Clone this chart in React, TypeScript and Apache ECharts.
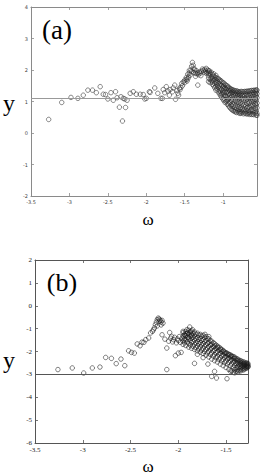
import React, { useEffect, useRef } from "react";
import * as echarts from "echarts";

// ---------- data ----------
const xRangeA = [-3.5, -0.56];
const yRangeA = [-2, 4];
const refLineA = 1.1;

const xRangeB = [-3.5, -1.27];
const yRangeB = [-6, 2];
const refLineB = -3;

// panel (a): sparse part
const sparseA: [number, number][] = [
  [-3.27, 0.43], [-3.1, 0.97], [-2.98, 1.13], [-2.89, 1.1], [-2.82, 1.2], [-2.76, 1.36],
  [-2.7, 1.36], [-2.65, 1.28], [-2.6, 1.47], [-2.56, 1.23], [-2.53, 1.22], [-2.5, 1.08],
  [-2.46, 1.28], [-2.43, 1.04], [-2.4, 1.31], [-2.38, 1.12], [-2.35, 0.82], [-2.33, 1.15],
  [-2.3, 1.1], [-2.31, 0.38], [-2.27, 0.81], [-2.28, 1.08], [-2.25, 1.04], [-2.21, 1.26],
  [-2.17, 1.31], [-2.13, 1.23], [-2.08, 1.23], [-2.04, 1.22], [-2.02, 1.08], [-2.0, 1.1],
  [-1.96, 1.31], [-1.95, 1.29], [-1.89, 1.43], [-1.85, 1.26], [-1.81, 1.1], [-1.79, 1.1],
  [-1.78, 1.38], [-1.76, 1.28], [-1.74, 1.47], [-1.72, 1.33], [-1.7, 1.2], [-1.69, 1.38],
  [-1.66, 1.31], [-1.65, 1.43], [-1.63, 1.52], [-1.62, 1.07], [-1.59, 1.26], [-1.58, 1.2],
  [-1.6, 1.35], [-1.57, 1.42], [-1.56, 1.38], [-1.55, 1.45], [-1.54, 1.57], [-1.53, 1.5],
  [-1.52, 1.62], [-1.5, 1.68], [-1.5, 1.6], [-1.48, 1.76], [-1.48, 1.7], [-1.47, 1.65],
  [-1.46, 1.87], [-1.46, 1.72], [-1.45, 1.78], [-1.44, 1.99], [-1.44, 1.9], [-1.43, 1.84],
  [-1.42, 2.0], [-1.41, 2.12], [-1.41, 1.95], [-1.4, 2.24], [-1.39, 2.15], [-1.38, 2.05],
  [-1.38, 1.92], [-1.37, 2.0], [-1.36, 1.89], [-1.36, 1.8], [-1.35, 1.98], [-1.34, 1.88],
  [-1.33, 1.52], [-1.33, 1.92], [-1.32, 1.85], [-1.31, 1.94], [-1.3, 1.9], [-1.29, 1.82],
  [-1.28, 1.96], [-1.27, 2.03], [-1.26, 1.99], [-1.25, 1.93], [-1.24, 2.02], [-1.23, 1.97],
  [-1.22, 2.05], [-1.22, 1.89], [-1.21, 1.92], [-1.2, 2.0], [-1.19, 1.9], [-1.18, 1.97],
];

// panel (a): dense band on the right
const denseA: [number, number][] = [
  [-1.19, 1.97], [-1.19, 1.83], [-1.19, 1.74], [-1.19, 1.63],
  [-1.17, 1.9], [-1.17, 1.86], [-1.17, 1.7], [-1.17, 1.6],
  [-1.155, 1.93], [-1.155, 1.77], [-1.155, 1.66],
  [-1.14, 1.85], [-1.14, 1.73], [-1.14, 1.62], [-1.14, 1.55],
  [-1.125, 1.88], [-1.125, 1.8], [-1.125, 1.68], [-1.125, 1.5],
  [-1.11, 1.78], [-1.11, 1.69], [-1.11, 1.57], [-1.11, 1.44],
  [-1.095, 1.83], [-1.095, 1.74], [-1.095, 1.61], [-1.095, 1.48], [-1.095, 1.36],
  [-1.08, 1.75], [-1.08, 1.66], [-1.08, 1.52], [-1.08, 1.4],
  [-1.065, 1.72], [-1.065, 1.58], [-1.065, 1.46], [-1.065, 1.31],
  [-1.05, 1.7], [-1.05, 1.63], [-1.05, 1.49], [-1.05, 1.36], [-1.05, 1.25],
  [-1.035, 1.66], [-1.035, 1.55], [-1.035, 1.42], [-1.035, 1.3], [-1.035, 1.19],
  [-1.02, 1.64], [-1.02, 1.51], [-1.02, 1.38], [-1.02, 1.22], [-1.02, 1.13],
  [-1.005, 1.6], [-1.005, 1.47], [-1.005, 1.34], [-1.005, 1.26], [-1.005, 1.08],
  [-0.99, 1.58], [-0.99, 1.5], [-0.99, 1.41], [-0.99, 1.29], [-0.99, 1.17], [-0.99, 1.03],
  [-0.975, 1.54], [-0.975, 1.44], [-0.975, 1.33], [-0.975, 1.2], [-0.975, 1.06], [-0.975, 0.97],
  [-0.96, 1.51], [-0.96, 1.4], [-0.96, 1.28], [-0.96, 1.14], [-0.96, 1.0],
  [-0.945, 1.49], [-0.945, 1.43], [-0.945, 1.3], [-0.945, 1.18], [-0.945, 1.04], [-0.945, 0.91],
  [-0.93, 1.46], [-0.93, 1.36], [-0.93, 1.25], [-0.93, 1.09], [-0.93, 0.94], [-0.93, 0.86],
  [-0.915, 1.42], [-0.915, 1.33], [-0.915, 1.21], [-0.915, 1.13], [-0.915, 0.97], [-0.915, 0.82],
  [-0.9, 1.4], [-0.9, 1.35], [-0.9, 1.26], [-0.9, 1.05], [-0.9, 0.89], [-0.9, 0.77],
  [-0.885, 1.38], [-0.885, 1.29], [-0.885, 1.17], [-0.885, 1.01], [-0.885, 0.84], [-0.885, 0.74],
  [-0.87, 1.36], [-0.87, 1.31], [-0.87, 1.22], [-0.87, 1.07], [-0.87, 0.91], [-0.87, 0.71],
  [-0.855, 1.35], [-0.855, 1.27], [-0.855, 1.15], [-0.855, 0.98], [-0.855, 0.81], [-0.855, 0.69],
  [-0.84, 1.33], [-0.84, 1.24], [-0.84, 1.19], [-0.84, 1.03], [-0.84, 0.87], [-0.84, 0.73], [-0.84, 0.67],
  [-0.825, 1.34], [-0.825, 1.28], [-0.825, 1.12], [-0.825, 0.95], [-0.825, 0.78], [-0.825, 0.65],
  [-0.81, 1.32], [-0.81, 1.22], [-0.81, 1.16], [-0.81, 0.99], [-0.81, 0.84], [-0.81, 0.7],
  [-0.795, 1.31], [-0.795, 1.26], [-0.795, 1.09], [-0.795, 0.92], [-0.795, 0.75], [-0.795, 0.64],
  [-0.78, 1.3], [-0.78, 1.2], [-0.78, 1.13], [-0.78, 0.96], [-0.78, 0.8], [-0.78, 0.68], [-0.78, 0.62],
  [-0.765, 1.32], [-0.765, 1.24], [-0.765, 1.07], [-0.765, 0.89], [-0.765, 0.73], [-0.765, 0.63],
  [-0.75, 1.31], [-0.75, 1.18], [-0.75, 1.11], [-0.75, 0.93], [-0.75, 0.77], [-0.75, 0.66],
  [-0.735, 1.3], [-0.735, 1.23], [-0.735, 1.05], [-0.735, 0.87], [-0.735, 0.71], [-0.735, 0.61],
  [-0.72, 1.32], [-0.72, 1.19], [-0.72, 1.1], [-0.72, 0.91], [-0.72, 0.75], [-0.72, 0.64],
  [-0.705, 1.31], [-0.705, 1.25], [-0.705, 1.03], [-0.705, 0.85], [-0.705, 0.69], [-0.705, 0.62],
  [-0.69, 1.33], [-0.69, 1.21], [-0.69, 1.08], [-0.69, 0.94], [-0.69, 0.79], [-0.69, 0.6],
  [-0.675, 1.32], [-0.675, 1.17], [-0.675, 1.01], [-0.675, 0.83], [-0.675, 0.72], [-0.675, 0.63],
  [-0.66, 1.34], [-0.66, 1.24], [-0.66, 1.12], [-0.66, 0.97], [-0.66, 0.81], [-0.66, 0.66], [-0.66, 0.59],
  [-0.645, 1.33], [-0.645, 1.2], [-0.645, 1.05], [-0.645, 0.88], [-0.645, 0.7], [-0.645, 0.61],
  [-0.63, 1.35], [-0.63, 1.27], [-0.63, 1.14], [-0.63, 0.99], [-0.63, 0.85], [-0.63, 0.74], [-0.63, 0.59],
  [-0.615, 1.34], [-0.615, 1.22], [-0.615, 1.07], [-0.615, 0.9], [-0.615, 0.68], [-0.615, 0.6],
  [-0.6, 1.36], [-0.6, 1.28], [-0.6, 1.16], [-0.6, 1.01], [-0.6, 0.86], [-0.6, 0.72], [-0.6, 0.58],
  [-0.585, 1.35], [-0.585, 1.24], [-0.585, 1.09], [-0.585, 0.93], [-0.585, 0.78], [-0.585, 0.64],
  [-0.57, 1.37], [-0.57, 1.3], [-0.57, 1.18], [-0.57, 1.03], [-0.57, 0.88], [-0.57, 0.7], [-0.57, 0.57],
  [-0.56, 1.36], [-0.56, 1.25], [-0.56, 1.12], [-0.56, 0.95], [-0.56, 0.8], [-0.56, 0.62], [-0.56, 0.56],
];

// panel (b): sparse part
const sparseB: [number, number][] = [
  [-3.26, -2.79], [-3.11, -2.72], [-2.99, -2.94], [-2.9, -2.72], [-2.82, -2.68], [-2.76, -2.26],
  [-2.7, -2.3], [-2.65, -2.53], [-2.6, -2.33], [-2.56, -2.62], [-2.52, -1.97], [-2.49, -2.04],
  [-2.46, -2.07], [-2.43, -1.67], [-2.4, -1.75], [-2.38, -1.59], [-2.36, -1.6], [-2.34, -1.48],
  [-2.31, -1.41], [-2.29, -1.19], [-2.27, -1.12], [-2.26, -1.05], [-2.25, -0.97], [-2.24, -0.83],
  [-2.23, -0.72], [-2.22, -0.61], [-2.22, -0.88], [-2.21, -0.54], [-2.2, -0.58], [-2.2, -0.68],
  [-2.19, -0.63], [-2.18, -0.72], [-2.18, -0.84], [-2.17, -0.64], [-2.16, -0.76],
  [-2.17, -1.27], [-2.14, -1.46], [-2.12, -1.85], [-2.12, -2.79], [-2.1, -1.55], [-2.09, -1.17],
  [-2.08, -1.42], [-2.07, -1.34], [-2.06, -1.58], [-2.05, -1.48], [-2.04, -1.38], [-2.03, -2.18],
  [-2.02, -1.62], [-2.01, -1.45], [-2.0, -2.07], [-2.0, -1.52], [-1.99, -1.35], [-1.98, -1.6],
  [-1.97, -2.04], [-1.96, -1.42], [-1.95, -1.12], [-1.94, -1.5], [-1.93, -1.3], [-1.92, -1.22],
  [-1.91, -1.05], [-1.9, -1.18], [-1.89, -1.4], [-1.88, -0.93], [-1.87, -1.12], [-1.86, -1.28],
  [-1.85, -1.05], [-1.83, -2.52], [-1.8, -2.12], [-1.74, -2.27], [-1.72, -1.25], [-1.69, -2.55],
  [-1.68, -1.35], [-1.65, -3.09], [-1.62, -2.87], [-1.6, -3.16], [-1.49, -3.19],
];

// panel (b): dense band on the right
const denseB: [number, number][] = [
  [-1.95, -1.18], [-1.95, -1.33], [-1.95, -1.55], [-1.95, -1.69],
  [-1.935, -1.25], [-1.935, -1.44], [-1.935, -1.62],
  [-1.92, -1.12], [-1.92, -1.3], [-1.92, -1.49], [-1.92, -1.74],
  [-1.905, -1.21], [-1.905, -1.38], [-1.905, -1.58],
  [-1.89, -1.07], [-1.89, -1.26], [-1.89, -1.45], [-1.89, -1.66], [-1.89, -1.81],
  [-1.875, -1.16], [-1.875, -1.34], [-1.875, -1.53], [-1.875, -1.72],
  [-1.86, -1.1], [-1.86, -1.29], [-1.86, -1.42], [-1.86, -1.61], [-1.86, -1.86],
  [-1.845, -1.2], [-1.845, -1.37], [-1.845, -1.57], [-1.845, -1.77],
  [-1.83, -1.15], [-1.83, -1.32], [-1.83, -1.5], [-1.83, -1.68], [-1.83, -1.91],
  [-1.815, -1.24], [-1.815, -1.44], [-1.815, -1.62], [-1.815, -1.83],
  [-1.8, -1.2], [-1.8, -1.38], [-1.8, -1.55], [-1.8, -1.75], [-1.8, -1.97],
  [-1.785, -1.28], [-1.785, -1.47], [-1.785, -1.66], [-1.785, -1.88],
  [-1.77, -1.25], [-1.77, -1.42], [-1.77, -1.6], [-1.77, -1.8], [-1.77, -2.03],
  [-1.755, -1.33], [-1.755, -1.52], [-1.755, -1.71], [-1.755, -1.94],
  [-1.74, -1.29], [-1.74, -1.47], [-1.74, -1.65], [-1.74, -1.86], [-1.74, -2.09],
  [-1.725, -1.38], [-1.725, -1.58], [-1.725, -1.77], [-1.725, -2.0],
  [-1.71, -1.35], [-1.71, -1.52], [-1.71, -1.71], [-1.71, -1.91], [-1.71, -2.16],
  [-1.695, -1.44], [-1.695, -1.64], [-1.695, -1.84], [-1.695, -2.06],
  [-1.68, -1.45], [-1.68, -1.6], [-1.68, -1.79], [-1.68, -1.99], [-1.68, -2.24],
  [-1.665, -1.53], [-1.665, -1.71], [-1.665, -1.9], [-1.665, -2.13],
  [-1.65, -1.55], [-1.65, -1.68], [-1.65, -1.86], [-1.65, -2.06], [-1.65, -2.33],
  [-1.635, -1.62], [-1.635, -1.79], [-1.635, -1.97], [-1.635, -2.2],
  [-1.62, -1.66], [-1.62, -1.76], [-1.62, -1.94], [-1.62, -2.14], [-1.62, -2.4],
  [-1.605, -1.72], [-1.605, -1.86], [-1.605, -2.04], [-1.605, -2.27],
  [-1.59, -1.77], [-1.59, -1.83], [-1.59, -2.01], [-1.59, -2.21], [-1.59, -2.46],
  [-1.575, -1.81], [-1.575, -1.94], [-1.575, -2.11], [-1.575, -2.34],
  [-1.56, -1.86], [-1.56, -1.92], [-1.56, -2.08], [-1.56, -2.28], [-1.56, -2.55],
  [-1.545, -1.91], [-1.545, -2.02], [-1.545, -2.18], [-1.545, -2.41],
  [-1.53, -1.96], [-1.53, -2.0], [-1.53, -2.15], [-1.53, -2.35], [-1.53, -2.62],
  [-1.515, -2.02], [-1.515, -2.09], [-1.515, -2.25], [-1.515, -2.48],
  [-1.5, -2.05], [-1.5, -2.08], [-1.5, -2.22], [-1.5, -2.42], [-1.5, -2.7],
  [-1.485, -2.09], [-1.485, -2.17], [-1.485, -2.32], [-1.485, -2.55],
  [-1.47, -2.12], [-1.47, -2.15], [-1.47, -2.29], [-1.47, -2.48], [-1.47, -2.78],
  [-1.455, -2.15], [-1.455, -2.24], [-1.455, -2.39], [-1.455, -2.62], [-1.455, -2.86],
  [-1.44, -2.19], [-1.44, -2.22], [-1.44, -2.36], [-1.44, -2.55], [-1.44, -2.84],
  [-1.425, -2.22], [-1.425, -2.31], [-1.425, -2.46], [-1.425, -2.68], [-1.425, -2.91],
  [-1.41, -2.25], [-1.41, -2.3], [-1.41, -2.42], [-1.41, -2.6], [-1.41, -2.8], [-1.41, -2.93],
  [-1.395, -2.3], [-1.395, -2.37], [-1.395, -2.52], [-1.395, -2.71], [-1.395, -2.88],
  [-1.38, -2.33], [-1.38, -2.4], [-1.38, -2.49], [-1.38, -2.64], [-1.38, -2.79], [-1.38, -2.9],
  [-1.365, -2.37], [-1.365, -2.45], [-1.365, -2.56], [-1.365, -2.69], [-1.365, -2.84],
  [-1.35, -2.4], [-1.35, -2.47], [-1.35, -2.54], [-1.35, -2.63], [-1.35, -2.75], [-1.35, -2.85],
  [-1.335, -2.43], [-1.335, -2.5], [-1.335, -2.59], [-1.335, -2.68], [-1.335, -2.8],
  [-1.32, -2.45], [-1.32, -2.52], [-1.32, -2.57], [-1.32, -2.65], [-1.32, -2.73], [-1.32, -2.81],
  [-1.305, -2.48], [-1.305, -2.54], [-1.305, -2.61], [-1.305, -2.69], [-1.305, -2.77],
  [-1.29, -2.5], [-1.29, -2.56], [-1.29, -2.62], [-1.29, -2.67], [-1.29, -2.74],
  [-1.28, -2.51], [-1.28, -2.58], [-1.28, -2.64], [-1.28, -2.7],
  [-1.27, -2.53], [-1.27, -2.6], [-1.27, -2.65], [-1.27, -2.68],
];

const serif = '"Liberation Serif", "DejaVu Serif", serif';

function axesFor(grid: number, xr: number[], yr: number[], labelStyle: any, lineColor: string) {
  const common = {
    type: "value" as const,
    gridIndex: grid,
    splitLine: { show: false },
    axisLine: { show: true, onZero: false, lineStyle: { color: lineColor, width: 1 } },
    axisTick: { show: true, inside: true, length: 3, lineStyle: { color: lineColor, width: 0.8 } },
  };
  const xa = [
    {
      ...common, position: "bottom", min: xr[0], max: xr[1], interval: 0.5,
      axisLabel: { ...labelStyle, showMaxLabel: false },
    },
    {
      ...common, position: "top", min: xr[0], max: xr[1], interval: 0.5,
      axisLabel: { show: false },
    },
  ];
  const ya = [
    { ...common, position: "left", min: yr[0], max: yr[1], interval: 1, axisLabel: { ...labelStyle } },
    { ...common, position: "right", min: yr[0], max: yr[1], interval: 1, axisLabel: { show: false } },
  ];
  return { xa, ya };
}

export default function App() {
  const ref = useRef<HTMLDivElement>(null);
  useEffect(() => {
    if (!ref.current) return;
    const chart = echarts.init(ref.current, undefined, { renderer: "svg" });
    const a = axesFor(0, xRangeA, yRangeA,
      { fontSize: 5, color: "#444", margin: 3, fontFamily: "DejaVu Sans" }, "#8a8a8a");
    const b = axesFor(1, xRangeB, yRangeB,
      { fontSize: 7, color: "#222", margin: 3, fontFamily: serif }, "#555");
    const symA = { color: "rgba(0,0,0,0)", borderColor: "#2a2a2a", borderWidth: 0.7 };
    const symB = { color: "rgba(0,0,0,0)", borderColor: "#1a1a1a", borderWidth: 0.7 };
    chart.setOption({
      animation: false,
      grid: [
        { left: 31, top: 7, width: 226, height: 189 },
        { left: 35, top: 260, width: 213, height: 183 },
      ],
      xAxis: [...a.xa, ...b.xa],
      yAxis: [...a.ya, ...b.ya],
      series: [
        {
          type: "scatter", xAxisIndex: 0, yAxisIndex: 0, symbol: "circle", symbolSize: 4.5,
          data: [...sparseA, ...denseA], itemStyle: symA, silent: true,
          markLine: {
            silent: true, symbol: "none", label: { show: false },
            lineStyle: { color: "#999", width: 1, type: "solid" },
            data: [{ yAxis: refLineA }],
          },
        },
        {
          type: "scatter", xAxisIndex: 2, yAxisIndex: 2, symbol: "circle", symbolSize: 4.5,
          data: [...sparseB, ...denseB], itemStyle: symB, silent: true,
          markLine: {
            silent: true, symbol: "none", label: { show: false },
            lineStyle: { color: "#555", width: 1, type: "solid" },
            data: [{ yAxis: refLineB }],
          },
        },
      ],
      graphic: [
        { type: "text", x: 57, y: 30, style: { text: "(a)", font: `27px ${serif}`, fill: "#000", textAlign: "center", textVerticalAlign: "middle" } },
        { type: "text", x: 62, y: 282, style: { text: "(b)", font: `26px ${serif}`, fill: "#000", textAlign: "center", textVerticalAlign: "middle" } },
        { type: "text", x: 9, y: 103, style: { text: "y", font: `24px ${serif}`, fill: "#000", textAlign: "center", textVerticalAlign: "middle" } },
        { type: "text", x: 9, y: 360, style: { text: "y", font: `24px ${serif}`, fill: "#000", textAlign: "center", textVerticalAlign: "middle" } },
        { type: "text", x: 148, y: 219, style: { text: "ω", font: `17px ${serif}`, fill: "#000", textAlign: "center", textVerticalAlign: "middle" } },
        { type: "text", x: 148, y: 466, style: { text: "ω", font: `17px ${serif}`, fill: "#000", textAlign: "center", textVerticalAlign: "middle" } },
      ],
    });
    return () => chart.dispose();
  }, []);
  return (
    <div
      ref={ref}
      style={{ position: "fixed", left: 0, top: 0, width: 260, height: 474, background: "#fff" }}
    />
  );
}
